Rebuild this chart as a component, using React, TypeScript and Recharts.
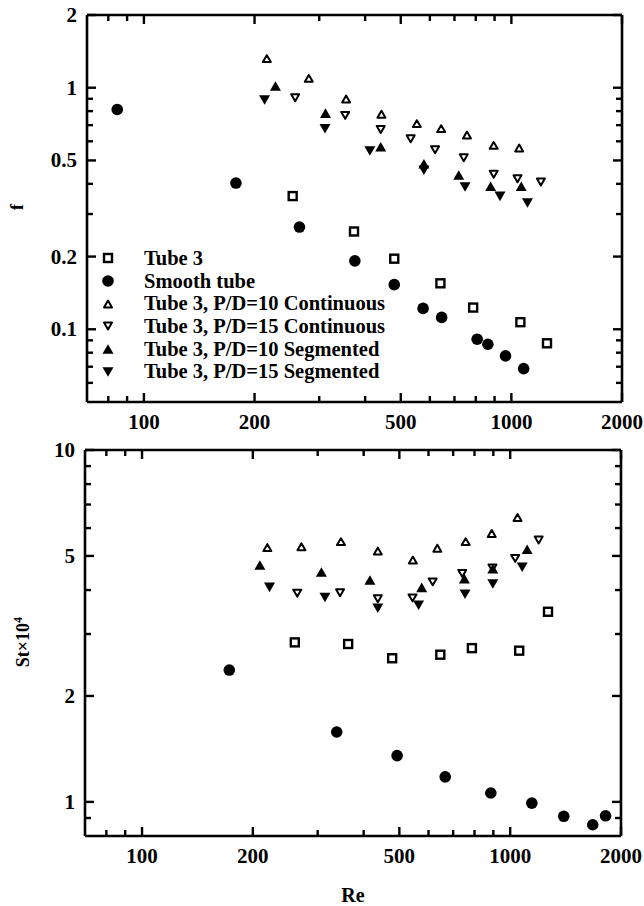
import React from "react";
import { ScatterChart, Scatter, XAxis, YAxis, Legend } from "recharts";

// ---- friction factor f (upper panel) ----
const reTube3F = [254, 373, 480, 641, 787, 1058, 1250];
const fTube3 = [0.356, 0.254, 0.196, 0.155, 0.123, 0.107, 0.0875];

const reSmoothF = [84.6, 178, 265, 375, 480, 575, 646, 807, 863, 964, 1080];
const fSmooth = [0.813, 0.403, 0.265, 0.192, 0.153, 0.122, 0.112, 0.091, 0.0867, 0.0776, 0.0687];

const reP10ContF = [216, 281, 355, 443, 553, 644, 757, 895, 1050];
const fP10Cont = [1.32, 1.093, 0.898, 0.776, 0.71, 0.677, 0.637, 0.577, 0.563];

const reP15ContF = [258, 353, 441, 532, 620, 742, 895, 1039, 1203];
const fP15Cont = [0.909, 0.768, 0.672, 0.615, 0.554, 0.513, 0.438, 0.42, 0.407];

const reP10SegF = [228, 312, 441, 578, 719, 878, 1064];
const fP10Seg = [1.016, 0.785, 0.57, 0.484, 0.435, 0.391, 0.391];

const reP15SegF = [213, 311, 412, 578, 748, 931, 1106];
const fP15Seg = [0.889, 0.677, 0.547, 0.455, 0.388, 0.355, 0.333];

// ---- Stanton number St x 10^4 (lower panel) ----
const reTube3St = [260, 363, 478, 646, 787, 1058, 1267];
const stTube3 = [2.84, 2.81, 2.56, 2.62, 2.735, 2.69, 3.47];

const reSmoothSt = [172.6, 338, 493, 666, 886, 1145, 1398, 1676, 1816];
const stSmooth = [2.37, 1.58, 1.354, 1.178, 1.06, 0.992, 0.91, 0.861, 0.913];

const reP10ContSt = [219, 271, 347, 437, 544, 634, 757, 891, 1047];
const stP10Cont = [5.28, 5.31, 5.49, 5.16, 4.87, 5.26, 5.49, 5.79, 6.43];

const reP15ContSt = [264, 345, 437, 543, 616, 741, 895, 1032, 1195];
const stP15Cont = [3.92, 3.93, 3.78, 3.8, 4.22, 4.46, 4.62, 4.92, 5.55];

const reP10SegSt = [209, 307, 416, 575, 751, 897, 1112];
const stP10Seg = [4.71, 4.5, 4.27, 4.07, 4.31, 4.6, 5.22];

const reP15SegSt = [222, 314, 437, 564, 754, 897, 1078];
const stP15Seg = [4.07, 3.81, 3.55, 3.62, 3.89, 4.16, 4.64];

// ---- axes ----
const xTicks = [80, 90, 100, 200, 300, 400, 500, 600, 700, 800, 900, 1000, 2000];
const xLabels = [100, 200, 500, 1000, 2000];
const fTicks = [0.06, 0.07, 0.08, 0.09, 0.1, 0.2, 0.3, 0.4, 0.5, 0.6, 0.7, 0.8, 0.9, 1, 2];
const fLabels = [0.1, 0.2, 0.5, 1, 2];
const stTicks = [0.9, 1, 2, 3, 4, 5, 6, 7, 8, 9, 10];
const stLabels = [1, 2, 5, 10];

const legendNames = [
  "Tube 3",
  "Smooth tube",
  "Tube 3, P/D=10 Continuous",
  "Tube 3, P/D=15 Continuous",
  "Tube 3, P/D=10 Segmented",
  "Tube 3, P/D=15 Segmented",
];

type Kind = "square" | "circle" | "upOpen" | "downOpen" | "upFilled" | "downFilled";
const kinds: Kind[] = ["square", "circle", "upOpen", "downOpen", "upFilled", "downFilled"];

const FONT = "'Liberation Serif', 'Times New Roman', Times, serif";

const pts = (xs: number[], ys: number[]) => xs.map((re, i) => ({ re, v: ys[i] }));

function Marker({ kind, cx, cy }: { kind: Kind; cx: number; cy: number }) {
  if (kind === "circle") return <circle cx={cx} cy={cy} r={5.8} fill="#000" />;
  if (kind === "square")
    return <rect x={cx - 4} y={cy - 4} width={8} height={8} fill="#fff" stroke="#000" strokeWidth={2.4} />;
  const filled = kind === "upFilled" || kind === "downFilled";
  const up = kind === "upOpen" || kind === "upFilled";
  const s = filled ? 11 : 8;
  const h = s * 0.866;
  const d = up ? -1 : 1;
  const points = `${cx},${cy + (d * h) / 2} ${cx - s / 2},${cy - (d * h) / 2} ${cx + s / 2},${cy - (d * h) / 2}`;
  return filled ? (
    <polygon points={points} fill="#000" />
  ) : (
    <polygon points={points} fill="#fff" stroke="#000" strokeWidth={2} strokeLinejoin="round" />
  );
}

// inward ticks on every side, long ones at the labelled values
function makeTick(side: "bottom" | "top" | "left" | "right", labels: number[]) {
  return (props: any) => {
    const x = Number(props.x);
    const y = Number(props.y);
    const v = props.payload.value as number;
    const big = labels.includes(v);
    const len = big ? 9 : 6;
    const w = 2.4;
    const r =
      side === "bottom" ? { x: x - w / 2, y: y - len, width: w, height: len } :
      side === "top" ? { x: x - w / 2, y: y, width: w, height: len } :
      side === "left" ? { x: x, y: y - w / 2, width: len, height: w } :
      { x: x - len, y: y - w / 2, width: len, height: w };
    return (
      <g>
        <rect {...r} fill="#000" />
        {big && side === "bottom" && (
          <text x={x} y={y + 27} textAnchor="middle" fontFamily={FONT} fontWeight="bold" fontSize={21} fill="#000">
            {v}
          </text>
        )}
        {big && side === "left" && (
          <text x={x - 10} y={y + 7} textAnchor="end" fontFamily={FONT} fontWeight="bold" fontSize={21} fill="#000">
            {v}
          </text>
        )}
      </g>
    );
  };
}

function LegendBox() {
  return (
    <div style={{ fontFamily: FONT, fontWeight: "bold", fontSize: 20.5, color: "#000" }}>
      {legendNames.map((name, i) => (
        <div key={name} style={{ display: "flex", alignItems: "center", height: 22.7, lineHeight: "22.7px", whiteSpace: "nowrap" }}>
          <svg width={20} height={20} style={{ flex: "none" }}>
            <Marker kind={kinds[i]} cx={10} cy={10} />
          </svg>
          <span style={{ marginLeft: 26 }}>{name}</span>
        </div>
      ))}
    </div>
  );
}

type PanelProps = {
  height: number;
  marginTop: number;
  marginRight: number;
  yAxisW: number;
  xAxisH: number;
  yDomain: [number, number];
  yTicks: number[];
  yLabels: number[];
  sets: { re: number; v: number }[][];
  yTitle: React.ReactNode;
  showLegend?: boolean;
  xTitle?: React.ReactNode;
};

function Panel(p: PanelProps) {
  const axisLine = { stroke: "#000", strokeWidth: 2.6 };
  return (
    <ScatterChart width={644} height={p.height} margin={{ top: p.marginTop - 1, right: p.marginRight - 1, left: 0, bottom: 0 }}>
      <XAxis
        dataKey="re"
        type="number"
        scale="log"
        domain={[70, 2000]}
        allowDataOverflow
        ticks={xTicks}
        interval={0}
        height={p.xAxisH}
        tickSize={0}
        tickMargin={0}
        tickLine={false}
        axisLine={axisLine}
        tick={makeTick("bottom", xLabels)}
        label={p.xTitle ? () => p.xTitle : undefined}
      />
      <XAxis
        xAxisId="top"
        orientation="top"
        dataKey="re"
        type="number"
        scale="log"
        domain={[70, 2000]}
        allowDataOverflow
        ticks={xTicks}
        interval={0}
        height={1}
        tickSize={0}
        tickMargin={0}
        tickLine={false}
        axisLine={axisLine}
        tick={makeTick("top", xLabels)}
      />
      <YAxis
        dataKey="v"
        type="number"
        scale="log"
        domain={p.yDomain}
        allowDataOverflow
        ticks={p.yTicks}
        interval={0}
        width={p.yAxisW}
        tickSize={0}
        tickMargin={0}
        tickLine={false}
        axisLine={axisLine}
        tick={makeTick("left", p.yLabels)}
        label={() => p.yTitle}
      />
      <YAxis
        yAxisId="right"
        orientation="right"
        dataKey="v"
        type="number"
        scale="log"
        domain={p.yDomain}
        allowDataOverflow
        ticks={p.yTicks}
        interval={0}
        width={1}
        tickSize={0}
        tickMargin={0}
        tickLine={false}
        axisLine={axisLine}
        tick={makeTick("right", p.yLabels)}
      />
      {p.sets.map((data, i) => (
        <Scatter
          key={i}
          name={legendNames[i]}
          data={data}
          isAnimationActive={false}
          shape={(s: any) => <Marker kind={kinds[i]} cx={s.cx} cy={s.cy} />}
        />
      ))}
      {p.showLegend && (
        <Legend
          layout="vertical"
          align="center"
          verticalAlign="middle"
          width={330}
          wrapperStyle={{ left: 98, top: 247 }}
          content={() => <LegendBox />}
        />
      )}
    </ScatterChart>
  );
}

export default function App() {
  const fSets = [
    pts(reTube3F, fTube3),
    pts(reSmoothF, fSmooth),
    pts(reP10ContF, fP10Cont),
    pts(reP15ContF, fP15Cont),
    pts(reP10SegF, fP10Seg),
    pts(reP15SegF, fP15Seg),
  ];
  const stSets = [
    pts(reTube3St, stTube3),
    pts(reSmoothSt, stSmooth),
    pts(reP10ContSt, stP10Cont),
    pts(reP15ContSt, stP15Cont),
    pts(reP10SegSt, stP10Seg),
    pts(reP15SegSt, stP15Seg),
  ];
  return (
    <div style={{ position: "absolute", left: 0, top: 0, width: 644, height: 906, background: "#fff" }}>
      <div style={{ position: "absolute", left: 0, top: 0 }}>
        <Panel
          height={440}
          marginTop={15}
          marginRight={22}
          yAxisW={87}
          xAxisH={38}
          yDomain={[0.05, 2]}
          yTicks={fTicks}
          yLabels={fLabels}
          sets={fSets}
          showLegend
          yTitle={
            <text x={23} y={207} transform="rotate(-90 23 207)" textAnchor="middle" fontFamily={FONT} fontWeight="bold" fontSize={18} fill="#000">
              f
            </text>
          }
        />
      </div>
      <div style={{ position: "absolute", left: 0, top: 425 }}>
        <Panel
          height={481}
          marginTop={25}
          marginRight={23}
          yAxisW={85}
          xAxisH={70}
          yDomain={[0.8, 10]}
          yTicks={stTicks}
          yLabels={stLabels}
          sets={stSets}
          xTitle={
            <text x={353} y={477} textAnchor="middle" fontFamily={FONT} fontWeight="bold" fontSize={20} fill="#000">
              Re
            </text>
          }
          yTitle={
            <text x={29} y={217} transform="rotate(-90 29 217)" textAnchor="middle" fontFamily={FONT} fontWeight="bold" fontSize={18} fill="#000">
              St×10
              <tspan dy={-7} fontSize={12}>4</tspan>
            </text>
          }
        />
      </div>
    </div>
  );
}
